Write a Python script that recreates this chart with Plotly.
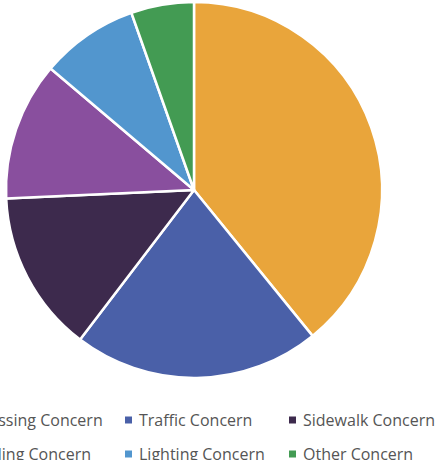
import plotly.graph_objects as go

labels = ["Crossing Concern", "Traffic Concern", "Sidewalk Concern",
          "Cycling Concern", "Lighting Concern", "Other Concern"]
values = [39.1, 21.2, 13.9, 11.9, 8.4, 5.4]
colors = ["#E9A53B", "#4A60A8", "#3D2A4D", "#894F9E", "#5296CE", "#439B53"]

W, H = 436, 460
cx, cy, r = 194, 190, 188

fig = go.Figure(
    go.Pie(
        labels=labels,
        values=values,
        sort=False,
        direction="clockwise",
        rotation=0,
        marker=dict(colors=colors, line=dict(color="white", width=2.5)),
        textinfo="none",
        hoverinfo="label+percent",
        domain=dict(
            x=[(cx - r) / W, (cx + r) / W],
            y=[1 - (cy + r) / H, 1 - (cy - r) / H],
        ),
    )
)

# legend drawn by hand so it can overflow the page like the original
col_x = [-39, 128.5, 292.5]
row_y = [420, 454]
shapes = []
annotations = []
for n, (lab, col) in enumerate(zip(labels, colors)):
    mx = col_x[n % 3]
    my = row_y[n // 3]
    shapes.append(dict(
        type="rect", xref="paper", yref="paper",
        x0=(mx - 3.5) / W, x1=(mx + 3.5) / W,
        y0=1 - (my + 3.5) / H, y1=1 - (my - 3.5) / H,
        fillcolor=col, line=dict(width=0),
    ))
    annotations.append(dict(
        text=lab, xref="paper", yref="paper",
        x=(mx + 8.5) / W, y=1 - my / H,
        xanchor="left", yanchor="middle", showarrow=False,
        font=dict(family="Open Sans", size=16, color="#555555"),
    ))

fig.update_layout(
    width=W,
    height=H,
    margin=dict(l=0, r=0, t=0, b=0),
    paper_bgcolor="white",
    showlegend=False,
    shapes=shapes,
    annotations=annotations,
)

fig.write_html(
    "out.html",
    config={"displayModeBar": False},
    post_script="document.body.style.margin='0';",
)
